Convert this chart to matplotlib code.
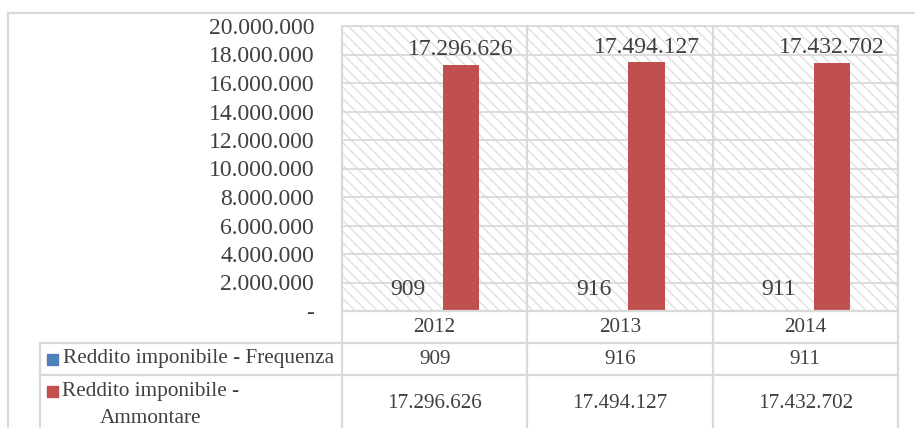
import matplotlib.pyplot as plt
from matplotlib.lines import Line2D
from matplotlib.patches import Rectangle
from matplotlib.ticker import FuncFormatter

years = ['2012', '2013', '2014']
frequenza = [909, 916, 911]
ammontare = [17296626, 17494127, 17432702]
series_names = ['Reddito imponibile - Frequenza', 'Reddito imponibile -\nAmmontare']
series_colors = ['#4f81bd', '#c0504d']

W, H = 915, 428
GRID = '#d9d9d9'
TXT = '#404040'
plt.rcParams['font.family'] = ['Liberation Serif', 'DejaVu Serif']
plt.rcParams['hatch.linewidth'] = 1.0


def it_num(v):
    return f'{v:,.0f}'.replace(',', '.')


def fx(px):
    return px / W


def fy(py):
    return 1 - py / H


fig = plt.figure(figsize=(W / 100, H / 100), dpi=100)

# plot area in pixel coordinates of the reference
left, right, top, bottom = 342, 898, 26, 311
ax = fig.add_axes([fx(left), fy(bottom), fx(right - left), (bottom - top) / H])

bg = Rectangle((0, 0), 1, 1, transform=ax.transAxes, facecolor='white',
               edgecolor='#e0e0e0', hatch='\\\\\\', linewidth=0, zorder=0)
ax.add_patch(bg)

x = list(range(len(years)))
bw, off = 0.195, 0.143
ax.bar([i - off for i in x], frequenza, bw, color=series_colors[0], zorder=3)
ax.bar([i + off for i in x], ammontare, bw, color=series_colors[1], zorder=3)

for i in x:
    ax.annotate(it_num(frequenza[i]), (i - off, frequenza[i]), xytext=(0, 8),
                textcoords='offset points', ha='center', va='bottom',
                fontsize=17, color=TXT)
    ax.annotate(it_num(ammontare[i]), (i + off, ammontare[i]), xytext=(0, 3),
                textcoords='offset points', ha='center', va='bottom',
                fontsize=17, color=TXT)

ax.set_xlim(-0.5, len(years) - 0.5)
ax.set_ylim(0, 20000000)
ax.set_yticks(range(0, 20000001, 2000000))
ax.yaxis.set_major_formatter(FuncFormatter(lambda v, p: '-' if v == 0 else it_num(v)))
ax.tick_params(axis='y', length=0, pad=20, labelsize=17, labelcolor=TXT)
ax.set_xticks([])
ax.grid(axis='y', color=GRID, linewidth=1.3, zorder=1)
ax.set_axisbelow(True)
for s in ax.spines.values():
    s.set_color(GRID)
    s.set_linewidth(1.3)

# data table below the plot
col_edges = [left + (right - left) * k / len(years) for k in range(len(years) + 1)]
row_edges = [bottom, 343, 375, H]
leg_left = 40


def hline(y, x0, x1):
    fig.add_artist(Line2D([fx(x0), fx(x1)], [fy(y), fy(y)], color=GRID, lw=1.6))


def vline(xp, y0, y1):
    fig.add_artist(Line2D([fx(xp), fx(xp)], [fy(y0), fy(y1)], color=GRID, lw=1.6))


# outer chart border
hline(13, 8, W)
vline(8, 13, H)

hline(row_edges[0], left, right)
hline(row_edges[1], leg_left, right)
hline(row_edges[2], leg_left, right)
vline(leg_left, row_edges[1], H)
for xe in col_edges:
    vline(xe, top, H)

TS = 15.3
for i, yr in enumerate(years):
    cx = (col_edges[i] + col_edges[i + 1]) / 2
    fig.text(fx(cx), fy(327), yr, ha='center', va='center', fontsize=TS, color=TXT)
    fig.text(fx(cx), fy(359), it_num(frequenza[i]), ha='center', va='center',
             fontsize=TS, color=TXT)
    fig.text(fx(cx), fy(403), it_num(ammontare[i]), ha='center', va='center',
             fontsize=TS, color=TXT)

# legend keys inside the table
fig.add_artist(Rectangle((fx(47), fy(365)), fx(11), 11 / H, color=series_colors[0]))
fig.text(fx(63), fy(359), series_names[0], ha='left', va='center', fontsize=TS, color=TXT)
fig.add_artist(Rectangle((fx(47), fy(397)), fx(11), 11 / H, color=series_colors[1]))
fig.text(fx(151), fy(405), series_names[1], ha='center', va='center', fontsize=TS,
         color=TXT, linespacing=1.55, multialignment='center')

fig.savefig('out.png', dpi=100)
